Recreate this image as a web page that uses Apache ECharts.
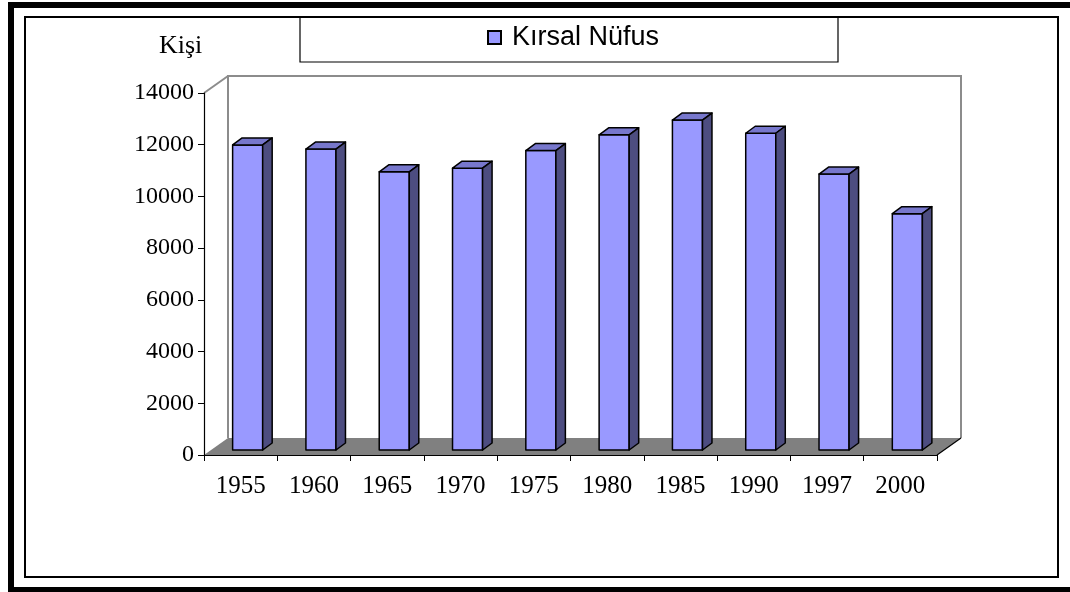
<!DOCTYPE html>
<html>
<head>
<meta charset="utf-8">
<script src="https://cdn.jsdelivr.net/npm/echarts@6/dist/echarts.min.js"></script>
<style>
  html, body { margin: 0; padding: 0; background: #fff; }
  #chart { width: 1070px; height: 592px; }
</style>
</head>
<body>
<div id="chart"></div>
<script>
// data
var years = ['1955', '1960', '1965', '1970', '1975', '1980', '1985', '1990', '1997', '2000'];
var ruralPop = [11800, 11640, 10760, 10900, 11580, 12190, 12760, 12250, 10670, 9140];
var seriesName = 'Kırsal Nüfus';
var unitLabel = 'Kişi';

// 3d look (pixels)
var wallDepth = [24, -17];
var barShift = [7, -5];
var barDepth = [9.5, -7];

var chart = echarts.init(document.getElementById('chart'));

function renderWall(params, api) {
    var cs = params.coordSys;
    var x = cs.x, y = cs.y, w = cs.width, h = cs.height;
    var dx = wallDepth[0], dy = wallDepth[1];
    return {
        type: 'group',
        children: [
            {
                type: 'polygon',
                shape: { points: [[x, y + h], [x + w, y + h], [x + w + dx, y + h + dy], [x + dx, y + h + dy]] },
                style: { fill: '#808080', stroke: null }
            },
            {
                type: 'polyline',
                shape: { points: [[x + dx, y + h + dy], [x + dx, y + dy], [x + w + dx, y + dy], [x + w + dx, y + h + dy]] },
                style: { stroke: '#8c8c8c', lineWidth: 2, fill: null }
            },
            {
                type: 'line',
                shape: { x1: x, y1: y, x2: x + dx, y2: y + dy },
                style: { stroke: '#8c8c8c', lineWidth: 2 }
            },
            {
                type: 'line',
                shape: { x1: x + w, y1: y + h, x2: x + w + dx, y2: y + h + dy },
                style: { stroke: '#000', lineWidth: 1.2 }
            }
        ]
    };
}

function renderBar(params, api) {
    var i = api.value(0), v = api.value(1);
    var top = api.coord([i, v]);
    var base = api.coord([i, 0]);
    var band = api.size([1, 0])[0];
    var w = band * 0.41;
    var x0 = top[0] - w / 2 + barShift[0], x1 = x0 + w;
    var y0 = top[1] + barShift[1], y1 = base[1] + barShift[1];
    var dx = barDepth[0], dy = barDepth[1];
    var line = { stroke: '#000', lineWidth: 1.5, lineJoin: 'round' };
    return {
        type: 'group',
        children: [
            {
                type: 'polygon',
                shape: { points: [[x0, y0], [x1, y0], [x1, y1], [x0, y1]] },
                style: Object.assign({ fill: '#9999FF' }, line)
            },
            {
                type: 'polygon',
                shape: { points: [[x0, y0], [x0 + dx, y0 + dy], [x1 + dx, y0 + dy], [x1, y0]] },
                style: Object.assign({ fill: '#7777CC' }, line)
            },
            {
                type: 'polygon',
                shape: { points: [[x1, y0], [x1 + dx, y0 + dy], [x1 + dx, y1 + dy], [x1, y1]] },
                style: Object.assign({ fill: '#4D4D80' }, line)
            }
        ]
    };
}

chart.setOption({
    animation: false,
    backgroundColor: '#fff',
    title: {
        text: unitLabel,
        left: 154,
        top: 28,
        textStyle: { fontFamily: 'Liberation Serif', fontSize: 26, fontWeight: 'normal', color: '#000' }
    },
    legend: {
        data: [seriesName],
        left: 487,
        top: 24,
        padding: 0,
        icon: 'rect',
        itemWidth: 13,
        itemHeight: 13,
        textStyle: { fontFamily: 'Liberation Sans', fontSize: 27, color: '#000', padding: [0, 0, 0, 6] }
    },
    graphic: [
        {
            type: 'rect',
            shape: { x: 11, y: 5, width: 1066, height: 585 },
            style: { fill: null, stroke: '#000', lineWidth: 6 },
            silent: true
        },
        {
            type: 'rect',
            shape: { x: 25, y: 17, width: 1033, height: 560 },
            style: { fill: null, stroke: '#000', lineWidth: 2 },
            silent: true
        },
        {
            type: 'rect',
            shape: { x: 300, y: 17, width: 538, height: 45 },
            style: { fill: null, stroke: '#000', lineWidth: 1.2 },
            silent: true
        }
    ],
    grid: { left: 204, right: 133, top: 93, bottom: 137 },
    xAxis: {
        type: 'category',
        data: years,
        z: 5,
        axisLine: { lineStyle: { color: '#000', width: 1.2 } },
        axisTick: { show: true, length: 6, interval: 0, lineStyle: { color: '#000' } },
        axisLabel: { margin: 19, fontFamily: 'Liberation Serif', fontSize: 25, color: '#000' },
        splitLine: { show: false }
    },
    yAxis: {
        type: 'value',
        min: 0,
        max: 14000,
        interval: 2000,
        z: 5,
        axisLine: { show: true, lineStyle: { color: '#000', width: 1.2 } },
        axisTick: { show: true, length: 6, lineStyle: { color: '#000' } },
        axisLabel: {
            margin: 10,
            fontFamily: 'Liberation Serif',
            fontSize: 24,
            color: '#000',
            formatter: function (v) { return String(v); }
        },
        splitLine: { show: false }
    },
    series: [
        {
            type: 'custom',
            name: 'wall',
            clip: false,
            silent: true,
            z: 1,
            renderItem: renderWall,
            data: [[0, 0]]
        },
        {
            type: 'custom',
            name: seriesName,
            clip: false,
            z: 3,
            itemStyle: { color: '#9999FF', borderColor: '#000', borderWidth: 1 },
            renderItem: renderBar,
            encode: { x: 0, y: 1 },
            data: years.map(function (y, i) { return [i, ruralPop[i]]; })
        }
    ]
});
</script>
</body>
</html>
